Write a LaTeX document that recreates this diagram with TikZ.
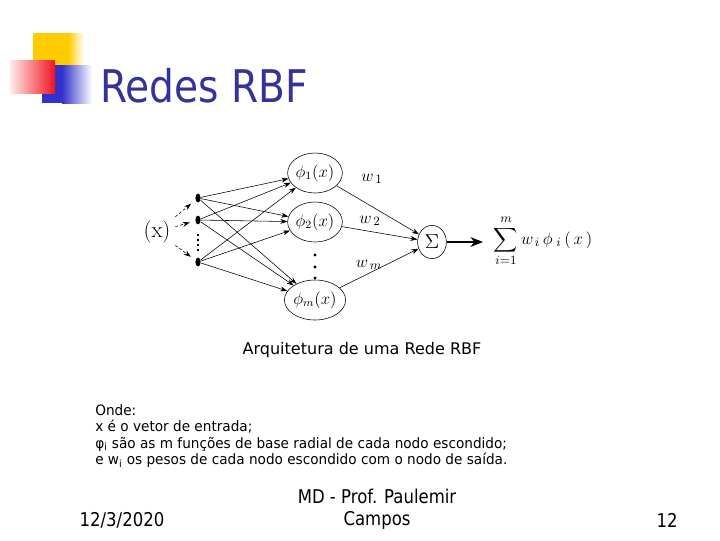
\documentclass[tikz,border=0pt]{standalone}
\usepackage{fontspec}
\usepackage{amsmath}
\usepackage{xcolor}
\usetikzlibrary{shapes.geometric,arrows.meta,positioning}
\setmainfont{DejaVu Sans}
\newfontfamily\tahoma[FakeStretch=0.87]{DejaVu Sans}
\newfontfamily\notesfont[FakeStretch=0.95]{DejaVu Sans}
\newfontfamily\lmfont{Latin Modern Roman}
\definecolor{titleblue}{RGB}{51,51,153}
\definecolor{logoblue}{RGB}{51,51,204}
\definecolor{logoyellow}{RGB}{255,204,0}
\definecolor{logored}{RGB}{240,20,30}
\tikzset{
  hidnode/.style={
    ellipse, draw=black, thin, minimum width=1.15cm, minimum height=1cm,
    inner sep=0pt, font=\fontsize{12}{14}\selectfont
  },
  sumnode/.style={
    ellipse, draw=black, thin, minimum width=0.72cm, minimum height=0.83cm,
    inner sep=0pt, font=\fontsize{14}{16}\selectfont
  },
  innode/.style={ellipse, fill=black, minimum width=0.13cm, minimum height=0.22cm, inner sep=0pt},
  netarrow/.style={-{Stealth[length=5pt,width=3.5pt]}, thin, draw=black},
  dasharrow/.style={netarrow, dash pattern=on 2pt off 1.5pt},
  bigarrow/.style={-{Stealth[length=9pt,width=7pt]}, thick, draw=black},
  wlabel/.style={font=\fontsize{13}{15}\selectfont, inner sep=0pt},
  bodytext/.style={font=\notesfont\fontsize{10.2}{11.7}\selectfont, align=left, anchor=north west, inner sep=0pt},
  foottext/.style={font=\tahoma\fontsize{13.5}{15.6}\selectfont, align=center, inner sep=0pt},
}
\begin{document}
\begin{tikzpicture}[x=0.025cm, y=-0.025cm]
  \useasboundingbox (0,0) rectangle (720,540);
  \fill[white] (0,0) rectangle (720,540);

  % logo
  \fill[logoyellow] (33,33) rectangle (68,66);
  \shade[left color=logoyellow, right color=white] (68,33) rectangle (84,66);
  \fill[logoblue] (42,65) rectangle (62,103);
  \shade[left color=logoblue, right color=white] (62,65) rectangle (92,103);
  \shade[left color=red!8, right color=logored] (10,60) rectangle (55,93);

  \node (title) [anchor=base west, text=titleblue, font=\tahoma\fontsize{32}{36}\selectfont, inner sep=0pt]
    at (100,102) {Redes RBF};

  % network
  \node (xin) [font=\lmfont\fontsize{16}{18}\selectfont] at (157,232) {(x)};
  \node (d1) [innode] at (198,198) {};
  \node (d2) [innode] at (198,220) {};
  \node (d3) [innode] at (198,262) {};
  \draw[line width=1.3pt, dash pattern=on 1.3pt off 2.2pt] (198,234) -- (198,252);

  \node (h1) [hidnode] at (315,173) {$\phi_1(x)$};
  \node (h2) [hidnode] at (315,222) {$\phi_2(x)$};
  \node (h3) [hidnode] at (315,300) {$\phi_m(x)$};
  \foreach \y in {255,267,278} \fill (315,\y) circle (1.7);

  \node (sum) [sumnode] at (432,242) {$\Sigma$};
  \coordinate (outend) at (483,242);
  \node (expr) [font=\fontsize{12.5}{14}\selectfont, inner sep=0pt] at (543,241)
    {$\displaystyle\sum_{i=1}^{m} w_{\,i}\,\phi_{\;i}\,(\,x\,)$};

  \foreach \i in {1,2,3} \draw[dasharrow, shorten >=4pt] (xin) -- (d\i);
  \foreach \i in {1,2,3} \foreach \j in {1,2,3} \draw[netarrow] (d\i) -- (h\j);
  \foreach \j in {1,2,3} \draw[netarrow] (h\j) -- (sum);
  \draw[bigarrow] (sum) -- (outend);

  \node (w1) [wlabel] at (372,179) {$w_{\,1}$};
  \node (w2) [wlabel] at (370,221) {$w_{\,2}$};
  \node (wm) [wlabel] at (369,265) {$w_{\,m}$};

  \node (caption) [font=\fontsize{11.4}{13}\selectfont] at (362,350) {Arquitetura de uma Rede RBF};

  \node (notes) [bodytext] at (95,404)
    {Onde:\\
     x é o vetor de entrada;\\
     φ\textsubscript{i} são as m funções de base radial de cada nodo escondido;\\
     e w\textsubscript{i} os pesos de cada nodo escondido com o nodo de saída.};

  % footer
  \node (date) [foottext] at (122,520) {12/3/2020};
  \node (author) [foottext] at (377,509) {MD - Prof. Paulemir\\Campos};
  \node (page) [foottext] at (667,520) {12};
\end{tikzpicture}
\end{document}
